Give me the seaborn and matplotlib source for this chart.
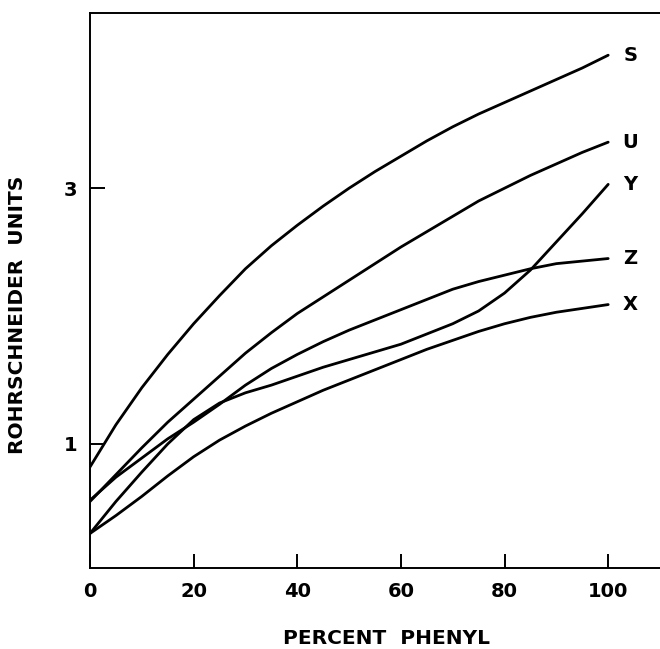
import numpy as np
import pandas as pd
import matplotlib
matplotlib.use("Agg")
import matplotlib.pyplot as plt
import seaborn as sns

# percent phenyl (x) and Rohrschneider units
percent_phenyl = [0, 5, 10, 15, 20, 25, 30, 35, 40, 45, 50,
                  55, 60, 65, 70, 75, 80, 85, 90, 95, 100]
s_units = [0.82, 1.15, 1.44, 1.70, 1.94, 2.16, 2.37, 2.55, 2.71, 2.86, 3.00,
           3.13, 3.25, 3.37, 3.48, 3.58, 3.67, 3.76, 3.85, 3.94, 4.04]
u_units = [0.55, 0.76, 0.97, 1.17, 1.35, 1.53, 1.71, 1.87, 2.02, 2.15, 2.28,
           2.41, 2.54, 2.66, 2.78, 2.90, 3.00, 3.10, 3.19, 3.28, 3.36]
y_units = [0.30, 0.55, 0.78, 1.00, 1.19, 1.32, 1.40, 1.46, 1.53, 1.60, 1.66,
           1.72, 1.78, 1.86, 1.94, 2.04, 2.18, 2.36, 2.58, 2.80, 3.03]
z_units = [0.56, 0.74, 0.89, 1.04, 1.17, 1.31, 1.46, 1.59, 1.70, 1.80, 1.89,
           1.97, 2.05, 2.13, 2.21, 2.27, 2.32, 2.37, 2.41, 2.43, 2.45]
x_units = [0.30, 0.44, 0.59, 0.75, 0.90, 1.03, 1.14, 1.24, 1.33, 1.42, 1.50,
           1.58, 1.66, 1.74, 1.81, 1.88, 1.94, 1.99, 2.03, 2.06, 2.09]
series_names = ["S", "U", "Y", "Z", "X"]
x_ticks = [0, 20, 40, 60, 80, 100]
y_ticks = [1, 3]

all_units = [s_units, u_units, y_units, z_units, x_units]
df = pd.concat(
    [pd.DataFrame({"phenyl": percent_phenyl, "units": vals, "probe": name})
     for name, vals in zip(series_names, all_units)],
    ignore_index=True,
)

sns.set_style("white")
plt.rcParams["font.family"] = ["DejaVu Sans"]
plt.rcParams["text.color"] = "black"

fig = plt.figure(figsize=(6.6, 6.49), dpi=100)
ax = fig.add_axes([90 / 660, 1 - 568 / 649, 570 / 660, 555 / 649])

sns.lineplot(data=df, x="phenyl", y="units", hue="probe", units="probe",
             estimator=None, palette=["black"] * 5, linewidth=2.0,
             legend=False, ax=ax)

# series labels at the right end of each curve
for name, vals in zip(series_names, all_units):
    ax.text(percent_phenyl[-1] + 4.3, vals[-1], name, fontsize=14,
            fontweight="bold", ha="center", va="center", color="black")

ax.set_xlim(0, 110)
ax.set_ylim(0.03, 4.37)
ax.set_xticks(x_ticks)
ax.set_yticks(y_ticks)
ax.tick_params(axis="x", bottom=True, direction="in", length=10, width=1.4,
               labelsize=14, pad=10, colors="black")
ax.tick_params(axis="y", left=True, direction="in", length=11, width=1.4,
               labelsize=14, pad=9, colors="black")
for lab in ax.get_xticklabels() + ax.get_yticklabels():
    lab.set_fontweight("bold")

for side in ["left", "top", "bottom"]:
    ax.spines[side].set_linewidth(1.4)
    ax.spines[side].set_color("black")
ax.spines["right"].set_visible(False)

ax.set_xlabel("PERCENT  PHENYL", fontsize=14.5, fontweight="bold",
              color="black")
ax.set_ylabel("ROHRSCHNEIDER  UNITS", fontsize=14.5, fontweight="bold",
              color="black")
ax.xaxis.set_label_coords(0.521, -0.11)
ax.yaxis.set_label_coords(-0.11, 0.456)

fig.savefig("out.png", dpi=100)
